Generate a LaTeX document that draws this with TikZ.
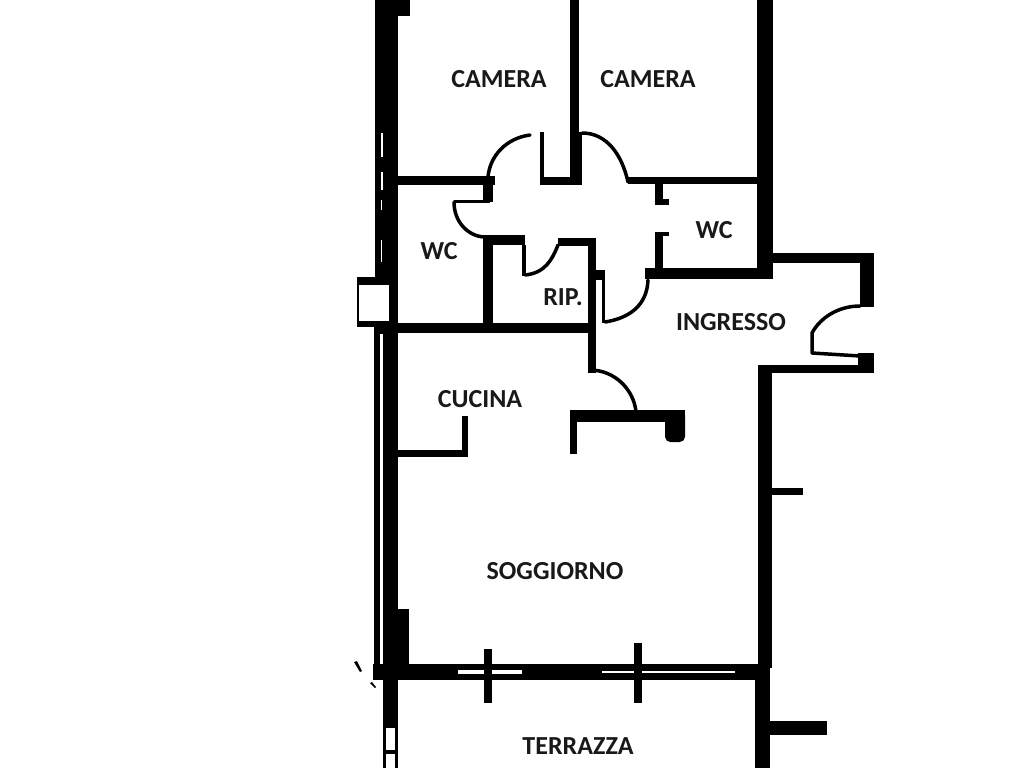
\documentclass[tikz,border=0pt]{standalone}
\usepackage{fontspec}
\setmainfont{Carlito}
\tikzset{
  wall/.style={fill=black},
  gap/.style={fill=white},
  doorarc/.style={draw=black,line width=0.07cm,line cap=round,line join=round},
  room/.style={font=\fontsize{14.8pt}{16pt}\selectfont\bfseries,text=black!90,inner sep=0pt,anchor=center}
}
\begin{document}
\begin{tikzpicture}[x=0.02cm,y=-0.02cm]
\useasboundingbox[fill=white] (0,0) rectangle (1024,768);
% left wall
\fill[wall] (375,0) rectangle (398,330);
\fill[wall] (398,0) rectangle (410,16);
\fill[wall] (374,325) rectangle (398,677);
\fill[wall] (383,600) rectangle (398,680);
\fill[wall] (397,609) rectangle (409,665);
\fill[gap] (380.5,133) rectangle (383,157);
\fill[gap] (380.5,172) rectangle (382.5,190);
\fill[gap] (380.5,200) rectangle (382,210);
\fill[gap] (380.5,240) rectangle (382,262);
\fill[gap] (380,334) rectangle (383,664);
% shaft box
\fill[wall] (357,277) rectangle (390,327);
\fill[gap] (358.5,285) rectangle (389,321);
% terrace wall
\fill[wall] (373,664) rectangle (757,680);
\fill[gap] (458,670) rectangle (522,674);
\fill[gap] (602,671) rectangle (735,673);
\fill[wall] (484,649) rectangle (492,703);
\fill[wall] (634,643) rectangle (642,703);
\fill[wall] (383,680) rectangle (398,768);
\fill[gap] (386,728) rectangle (395,768);
\fill[wall] (383,750) rectangle (395,754);
% right walls
\fill[wall] (757,0) rectangle (773,278);
\fill[wall] (758,365) rectangle (772,668);
\fill[wall] (755,664) rectangle (770,768);
\fill[wall] (770,721) rectangle (827,735);
\fill[wall] (772,488) rectangle (803,495);
% entrance
\fill[wall] (773,253) rectangle (874,263);
\fill[wall] (860,253) rectangle (874,307);
\fill[wall] (758,365) rectangle (874,373);
\fill[wall] (858,353) rectangle (874,373);
\draw[doorarc] (860,306) .. controls (838,306) and (820,318) .. (812,333) -- (812,353) -- (860,356);
% right WC
\fill[wall] (645,268) rectangle (773,279);
\fill[wall] (655,232) rectangle (663,268);
\fill[wall] (655,232) rectangle (669,236);
\fill[wall] (628,177) rectangle (757,184);
\fill[wall] (655,184) rectangle (663,203);
\fill[wall] (655,199) rectangle (669,205);
% camera partition
\fill[wall] (570,0) rectangle (579,132);
\fill[wall] (570,132) rectangle (582,185);
\fill[wall] (540,177) rectangle (582,185);
\fill[wall] (540,132) rectangle (544,185);
\draw[doorarc] (582,133) .. controls (607,133) and (622,155) .. (628,182);
\draw[doorarc] (530,135) .. controls (507,138) and (490,155) .. (488,177);
% left WC and store
\fill[wall] (398,176) rectangle (495,185);
\fill[wall] (483,176) rectangle (493,202);
\fill[wall] (454,200) rectangle (490,202.5);
\draw[doorarc] (454,202) .. controls (454,222) and (468,236) .. (484,237);
\fill[wall] (483,235) rectangle (493,330);
\fill[wall] (483,235) rectangle (525,245);
\fill[wall] (522,245) rectangle (526,276);
\draw[doorarc] (525,275) .. controls (545,273) and (552,260) .. (558,245);
\fill[wall] (558,238) rectangle (596,246);
\fill[wall] (588,238) rectangle (596,373);
\fill[wall] (596,270) rectangle (605,280);
\fill[wall] (602,280) rectangle (605,323);
\draw[doorarc] (605,322) .. controls (630,318) and (647,305) .. (648,280);
\fill[wall] (398,323) rectangle (596,333);
% kitchen door and living partition
\draw[doorarc] (590,370) .. controls (615,370) and (634,390) .. (636,412);
\fill[wall] (571,410) rectangle (685,422);
\fill[wall,rounded corners=3] (665,410) rectangle (685,442);
\fill[wall] (570,410) rectangle (577,454);
\fill[wall] (398,450) rectangle (468,457);
\fill[wall] (462,416) rectangle (468,457);
% specks
\fill[wall] (354,662) -- (357,661) -- (362,671) -- (360,672) -- cycle;
\fill[wall] (370,683) -- (372,682) -- (376,687) -- (375,688) -- cycle;
% labels
\node[room] (camA) at (499,79) {CAMERA};
\node[room] (camB) at (648,79) {CAMERA};
\node[room] (wcA) at (439,251) {WC};
\node[room] (wcB) at (714,230) {WC};
\node[room] (rip) at (563,297) {RIP.};
\node[room] (ing) at (731,322) {INGRESSO};
\node[room] (cuc) at (480,399) {CUCINA};
\node[room] (sog) at (555,571) {SOGGIORNO};
\node[room] (ter) at (578,746) {TERRAZZA};
\end{tikzpicture}
\end{document}
